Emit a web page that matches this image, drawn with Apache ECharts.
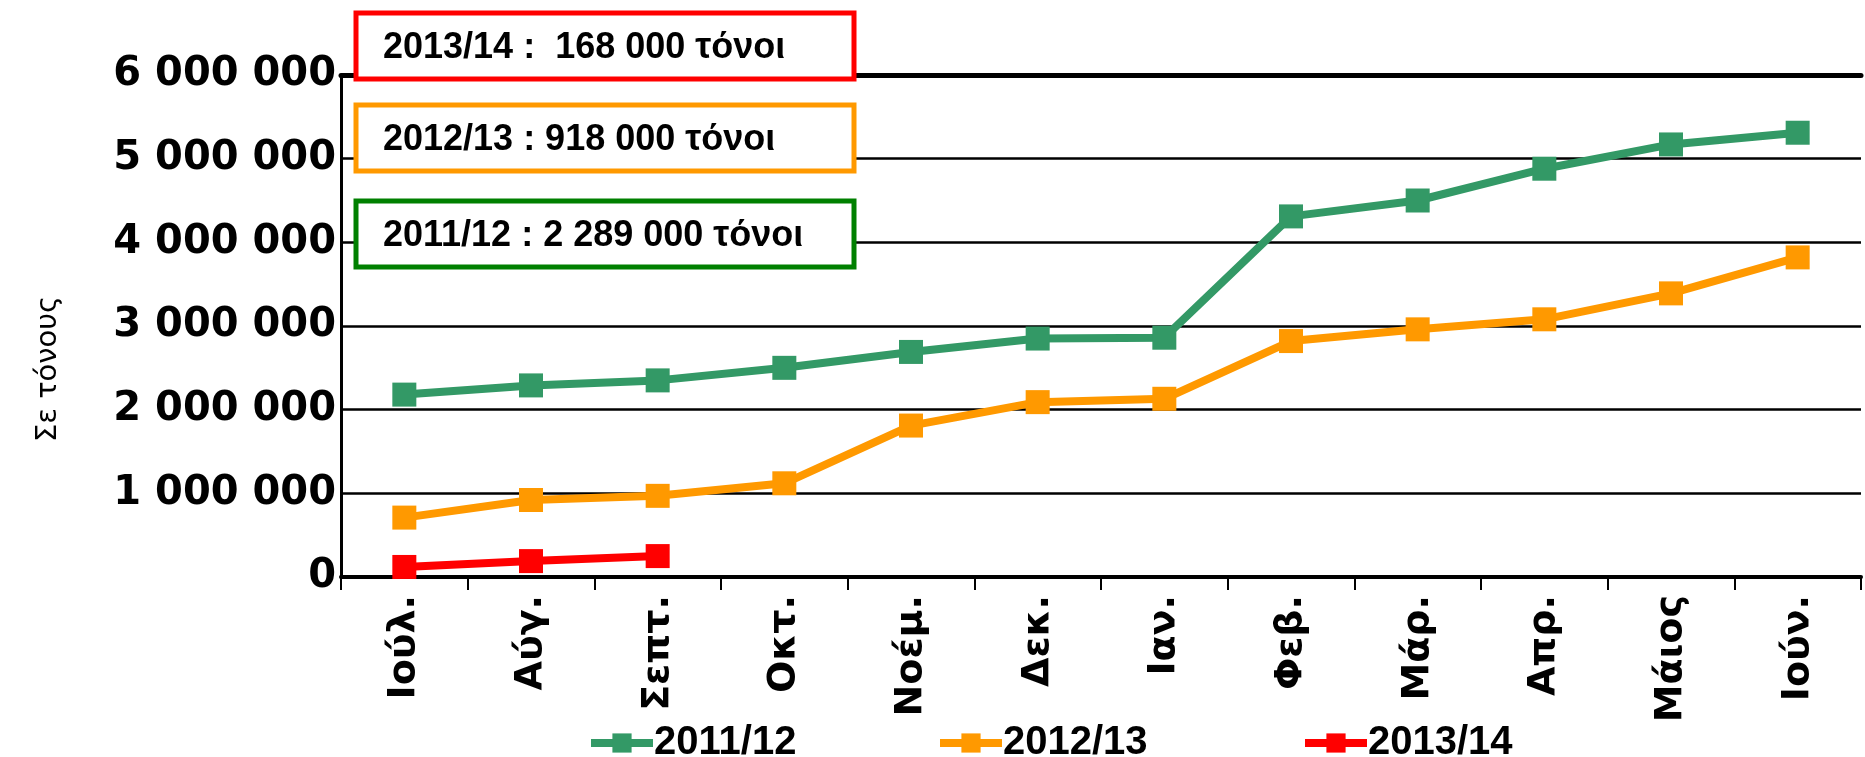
<!DOCTYPE html>
<html>
<head>
<meta charset="utf-8">
<script src="https://cdn.jsdelivr.net/npm/echarts@6/dist/echarts.min.js"></script>
<style>
  html, body { margin: 0; padding: 0; background: #fff; }
  #chart { width: 1865px; height: 757px; }
</style>
</head>
<body>
<div id="chart"></div>
<script>
  var months = ['Ιούλ.', 'Αύγ.', 'Σεπτ.', 'Οκτ.', 'Νοέμ.', 'Δεκ.', 'Ιαν.', 'Φεβ.', 'Μάρ.', 'Απρ.', 'Μάιος', 'Ιούν.'];
  var seasons = ['2011/12', '2012/13', '2013/14'];
  var s2011 = [2180000, 2290000, 2350000, 2500000, 2690000, 2850000, 2860000, 4310000, 4500000, 4880000, 5170000, 5310000];
  var s2012 = [710000, 920000, 970000, 1120000, 1810000, 2090000, 2130000, 2820000, 2960000, 3080000, 3390000, 3820000];
  var s2013 = [120000, 190000, 250000];
  var notes = ['2013/14 :  168 000 τόνοι', '2012/13 : 918 000 τόνοι', '2011/12 : 2 289 000 τόνοι'];

  var lineColors = ['#339966', '#FF9900', '#FF0000'];
  var noteColors = ['#FF0000', '#FF9900', '#008000'];
  var arialFont = '"Liberation Sans", Arial, sans-serif';
  var wideFont = '"DejaVu Sans", Verdana, sans-serif';

  function fmt(v) {
    return String(v).replace(/\B(?=(\d{3})+(?!\d))/g, ' ');
  }

  // annotation boxes (top left, drawn over the grid lines)
  var boxTops = [13, 105, 201];
  var graphics = [];
  for (var i = 0; i < notes.length; i++) {
    graphics.push({
      type: 'rect',
      z: 100,
      shape: { x: 356, y: boxTops[i], width: 498, height: 66 },
      style: { fill: '#fff', stroke: noteColors[i], lineWidth: 5 }
    });
    graphics.push({
      type: 'text',
      z: 101,
      x: 383,
      y: boxTops[i] + 35,
      style: {
        text: notes[i],
        fill: '#000',
        font: 'bold 36px ' + arialFont,
        verticalAlign: 'middle'
      }
    });
  }
  graphics.push({
    type: 'text',
    x: 48,
    y: 369,
    rotation: Math.PI / 2,
    style: {
      text: 'Σε τόνους',
      fill: '#000',
      font: '29px ' + wideFont,
      align: 'center',
      verticalAlign: 'middle'
    }
  });

  function makeSeries(name, data, color) {
    return {
      name: name,
      type: 'line',
      data: data,
      symbol: 'rect',
      symbolSize: 24,
      color: color,
      itemStyle: { color: color },
      lineStyle: { color: color, width: 8 },
      emphasis: { disabled: true },
      animation: false
    };
  }

  function makeLegend(name, left) {
    return {
      data: [name],
      left: left,
      top: 718,
      itemWidth: 62,
      itemHeight: 24,
      itemGap: 0,
      lineStyle: { width: 8 },
      textStyle: { color: '#000', fontWeight: 'bold', fontSize: 40, fontFamily: arialFont, padding: [0, 0, 0, -4] }
    };
  }

  var chart = echarts.init(document.getElementById('chart'));
  chart.setOption({
    backgroundColor: '#fff',
    animation: false,
    grid: { left: 341, right: 4, top: 75, bottom: 180 },
    legend: [
      makeLegend(seasons[0], 582),
      makeLegend(seasons[1], 931),
      makeLegend(seasons[2], 1296)
    ],
    xAxis: [
      {
        type: 'category',
        data: months,
        axisLine: { lineStyle: { color: '#000', width: 4 } },
        axisTick: { show: true, interval: 0, length: 13, lineStyle: { color: '#000', width: 2 } },
        axisLabel: {
          interval: 0,
          rotate: 90,
          margin: 18,
          color: '#000',
          fontWeight: 'bold',
          fontSize: 38,
          fontFamily: wideFont
        },
        splitLine: { show: false }
      },
      {
        type: 'category',
        data: months,
        position: 'top',
        axisLine: { lineStyle: { color: '#000', width: 5 } },
        axisTick: { show: false },
        axisLabel: { show: false },
        splitLine: { show: false }
      }
    ],
    yAxis: {
      type: 'value',
      min: 0,
      max: 6000000,
      interval: 1000000,
      axisLine: { show: true, lineStyle: { color: '#000', width: 3 } },
      axisTick: { show: false },
      axisLabel: {
        margin: 5,
        color: '#000',
        fontWeight: 'bold',
        fontSize: 40,
        fontFamily: wideFont,
        formatter: fmt
      },
      splitLine: { lineStyle: { color: '#000', width: 2.5 } }
    },
    graphic: graphics,
    series: [
      makeSeries(seasons[0], s2011, lineColors[0]),
      makeSeries(seasons[1], s2012, lineColors[1]),
      makeSeries(seasons[2], s2013, lineColors[2])
    ]
  });
</script>
</body>
</html>
